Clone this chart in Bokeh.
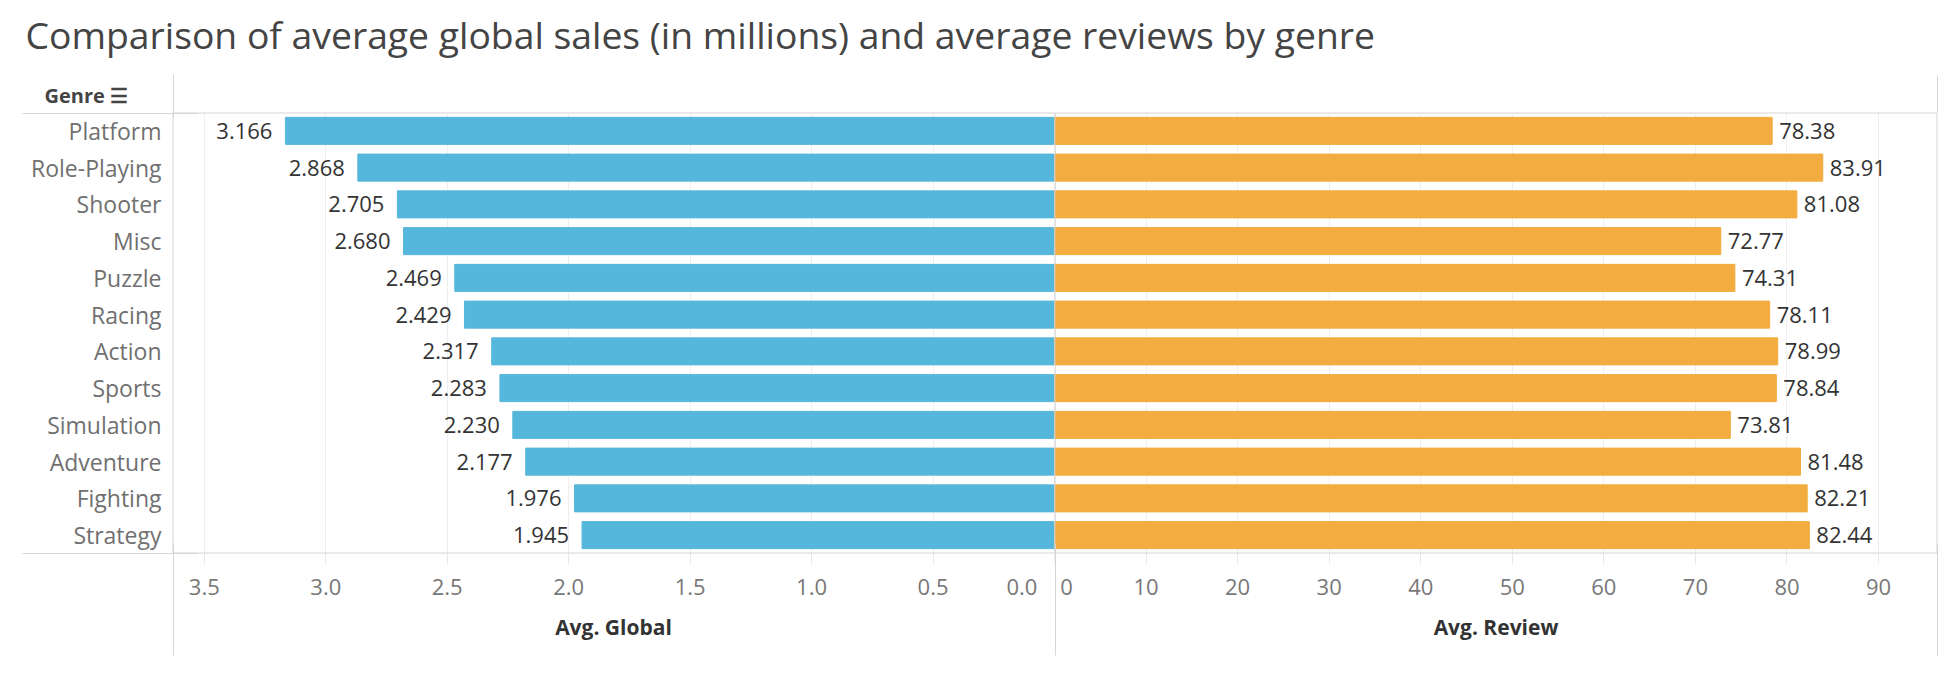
from bokeh.plotting import figure
from bokeh.models import (Range1d, FixedTicker, NumeralTickFormatter, LinearAxis,
                          Label, Title, Span, ColumnDataSource)
from bokeh.layouts import column, row
from bokeh.core.properties import value
from bokeh.embed import file_html
from bokeh.resources import INLINE

TITLE = "Comparison of average global sales (in millions) and average reviews by genre"
genres = ["Platform", "Role-Playing", "Shooter", "Misc", "Puzzle", "Racing",
          "Action", "Sports", "Simulation", "Adventure", "Fighting", "Strategy"]
avg_global = [3.166, 2.868, 2.705, 2.680, 2.469, 2.429, 2.317, 2.283, 2.230, 2.177, 1.976, 1.945]
avg_review = [78.38, 83.91, 81.08, 72.77, 74.31, 78.11, 78.99, 78.84, 73.81, 81.48, 82.21, 82.44]
global_ticks = [0.5, 1.0, 1.5, 2.0, 2.5, 3.0, 3.5]
review_ticks = [10, 20, 30, 40, 50, 60, 70, 80, 90]

FONT = "Open Sans"
BLUE = "#56B7DC"
ORANGE = "#F2AC3F"
LINE = "#d6d6d6"
ZERO = "#c8c8c8"
GRID = "#eeeeee"
TICK_COLOR = "#787878"
NB = "\u00a0"

N = len(genres)
ypos = [N - i - 0.5 for i in range(N)]          # row centres, first genre on top

G_START = 3.631     # left panel axis runs from here down to 0
R_END = 96.44       # right panel axis runs from 0 to here
LEFT_FRAME_W, RIGHT_FRAME_W, FRAME_H = 882, 883, 441
half_g = 0.5 * G_START / LEFT_FRAME_W
half_r = 0.5 * R_END / RIGHT_FRAME_W
half_y = 0.5 * N / FRAME_H

source = ColumnDataSource(dict(
    y=ypos, genre=genres, g=avg_global, r=avg_review,
    g_lab=[f"{v:.3f}" for v in avg_global],
    r_lab=[f"{v:.2f}" for v in avg_review]))

yr = Range1d(0, N)

FIG_H = 610
common = dict(height=FIG_H, y_range=yr, toolbar_location=None, output_backend="svg",
              min_border_top=42, min_border_bottom=127)

left = figure(width=172 + LEFT_FRAME_W, x_range=Range1d(G_START, 0),
              min_border_left=172, min_border_right=0, **common)
right = figure(width=RIGHT_FRAME_W + 5, x_range=Range1d(0, R_END), y_axis_location=None,
               min_border_left=0, min_border_right=5, **common)


def line_axis(minor, tick_in, tick_out):
    """An axis without labels that only draws frame-line extensions as minor ticks."""
    return LinearAxis(ticker=FixedTicker(ticks=[], minor_ticks=minor),
                      axis_line_color=None, major_tick_line_color=None,
                      major_tick_out=0, major_tick_in=0, major_label_standoff=0,
                      minor_tick_line_color=LINE, minor_tick_in=tick_in,
                      minor_tick_out=tick_out)


axis_specs = (
    (left, [0] + global_ticks, "0.0", "Avg. Global", {0: "0.0" + NB * 3},
     [G_START - half_g]),
    (right, [0] + review_ticks, "0", "Avg. Review", {0: NB + "0"},
     [half_r, R_END - half_r]),
)
for p, ticks, fmt, lab, overrides, edges in axis_specs:
    p.outline_line_color = None
    p.ygrid.grid_line_color = None
    p.xgrid.grid_line_color = GRID
    xa = p.xaxis[0]
    xa.ticker = FixedTicker(ticks=ticks)
    xa.formatter = NumeralTickFormatter(format=fmt)
    xa.major_label_overrides = overrides
    xa.axis_line_color = None
    xa.major_tick_line_color = "#e8e8e8"
    xa.major_tick_out = 10
    xa.major_tick_in = 0
    xa.minor_tick_line_color = None
    xa.major_label_standoff = 7
    xa.major_label_text_font = FONT
    xa.major_label_text_font_size = "22px"
    xa.major_label_text_color = TICK_COLOR
    xa.axis_label = lab
    xa.axis_label_text_font = FONT
    xa.axis_label_text_font_size = "21px"
    xa.axis_label_text_font_style = "bold"
    xa.axis_label_text_color = "#333333"
    xa.axis_label_standoff = 9
    # vertical frame lines continued down through the axis area
    p.add_layout(line_axis(edges, 100, 12), "below")

# genre labels on the left axis
ya = left.yaxis[0]
ya.ticker = FixedTicker(ticks=ypos)
ya.major_label_overrides = dict(zip(ypos, genres))
ya.axis_line_color = None
ya.major_tick_line_color = None
ya.major_tick_out = 0
ya.major_tick_in = 0
ya.minor_tick_line_color = None
ya.major_label_standoff = 11
ya.major_label_text_font = FONT
ya.major_label_text_font_size = "23px"
ya.major_label_text_color = "#707070"
# header and bottom lines continued through the genre column
left.add_layout(line_axis([N - half_y, half_y], 170, 6), "left")

# header row: "Genre" caption, then the vertical line extensions
left.add_layout(Title(text="Genre \u2630", align="left", offset=-128, standoff=7,
                      text_font=FONT, text_font_size="20px", text_font_style="bold",
                      text_color="#444444"), "above")
left.add_layout(line_axis([G_START - half_g], 40, 2), "above")
right.add_layout(line_axis([R_END - half_r], 0, 37), "above")

left.hbar(y="y", left=0, right="g", height=0.735, color=BLUE, source=source)
right.hbar(y="y", left=0, right="r", height=0.735, color=ORANGE, source=source)

left.text(x="g", y="y", text="g_lab", x_offset=-13, text_align="right",
          text_baseline="middle", text_font=value(FONT), text_font_size="22px",
          text_color="#333333", source=source)
right.text(x="r", y="y", text="r_lab", x_offset=7, text_align="left",
           text_baseline="middle", text_font=value(FONT), text_font_size="22px",
           text_color="#333333", source=source)

# frame lines (2px spans: half is clipped by the frame, leaving a crisp 1px line)
left.add_layout(Span(location=G_START, dimension="height", line_color=LINE, line_width=2))
for p in (left, right):
    p.add_layout(Span(location=N, dimension="width", line_color=LINE, line_width=2))
    p.add_layout(Span(location=0, dimension="width", line_color=LINE, line_width=2))
right.add_layout(Span(location=0, dimension="height", line_color=ZERO, line_width=2))
right.add_layout(Span(location=R_END, dimension="height", line_color=LINE, line_width=2))

# title strip
tf = figure(width=1942, height=70, toolbar_location=None, output_backend="svg",
            x_range=Range1d(0, 1), y_range=Range1d(0, 1), x_axis_location=None,
            y_axis_location=None, min_border=0)
tf.grid.visible = False
tf.outline_line_color = None
tf.add_layout(Label(x=25, y=36, x_units="screen", y_units="screen", text=TITLE,
                    text_align="left", text_baseline="middle", text_font=FONT,
                    text_font_size="37.3px", text_color="#444444"))

layout = column(tf, row(left, right, spacing=0), spacing=0)
open("out.html", "w").write(file_html(layout, INLINE))
